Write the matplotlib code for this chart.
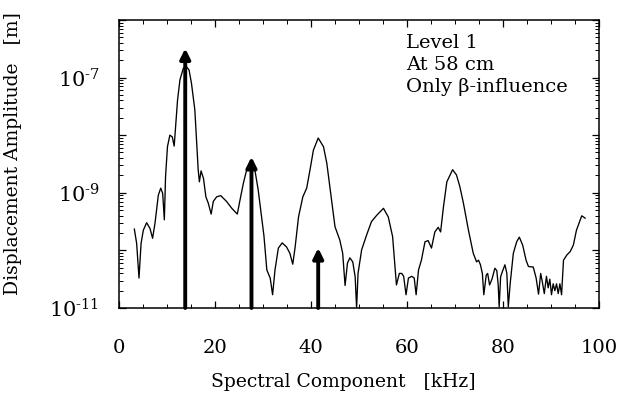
import numpy as np
import matplotlib
matplotlib.use("Agg")
import matplotlib.pyplot as plt
from matplotlib.ticker import LogLocator, FixedLocator, MultipleLocator, NullFormatter, FuncFormatter

# spectrum (kHz, log10 amplitude in m)
freq_khz = [3.2, 3.68, 4.17, 4.6, 5.07, 5.76, 6.46, 7.0, 7.5, 8.2, 8.7, 9.1, 9.45, 9.7,
            10.1, 10.6, 11.1, 11.5, 11.8, 12.2, 12.7, 13.4, 13.95, 14.6, 15.1, 15.8, 16.2,
            16.5, 16.75, 17.1, 17.6, 18.1, 18.6, 19.2, 19.65, 20.35, 21.2, 22.4, 23.5,
            24.65, 25.2, 25.9, 26.6, 27.5, 28.3, 29.0, 29.7, 30.2, 30.8, 31.5, 32.0, 32.5,
            33.2, 34.0, 34.9, 35.6, 36.2, 36.7, 37.4, 38.3, 39.1, 39.8, 40.5, 41.5, 42.6,
            43.3, 44.1, 45.0, 46.0, 46.6, 47.1, 47.6, 48.1, 48.7, 49.2, 49.5, 49.8, 50.55,
            51.6, 52.6, 53.7, 55.1, 56.1, 57.0, 57.8, 58.4, 58.9, 59.3, 59.8, 60.3, 61.0,
            61.5, 61.9, 62.4, 63.0, 63.75, 64.4, 65.1, 65.8, 66.5, 67.0, 67.6, 68.3, 69.5,
            70.3, 71.0, 71.75, 72.8, 73.8, 74.5, 74.9, 75.3, 75.7, 76.0, 76.5, 76.8, 77.2,
            77.7, 78.3, 78.7, 79.0, 79.2, 79.5, 79.9, 80.4, 80.8, 81.1, 81.5, 82.15, 82.85,
            83.4, 84.1, 84.8, 85.3, 86.3, 86.9, 87.4, 87.85, 88.2, 88.6, 89.05, 89.4, 89.75,
            90.1, 90.45, 90.8, 91.15, 91.5, 91.85, 92.2, 92.6, 93.3, 94.0, 94.65, 95.3,
            96.4, 97.1]
log_amp = [-9.63, -9.88, -10.48, -9.88, -9.65, -9.52, -9.62, -9.79, -9.53, -9.04, -8.92,
           -9.01, -9.47, -8.72, -8.20, -8.00, -8.03, -8.19, -7.85, -7.39, -7.04, -6.84,
           -6.80, -6.87, -7.10, -7.56, -8.14, -8.60, -8.81, -8.62, -8.75, -9.07, -9.18,
           -9.37, -9.15, -9.07, -9.05, -9.15, -9.27, -9.37, -9.13, -8.84, -8.60, -8.46,
           -8.60, -8.95, -9.41, -9.75, -10.34, -10.48, -10.77, -10.34, -9.96, -9.87,
           -9.94, -10.05, -10.24, -9.94, -9.42, -9.07, -8.92, -8.60, -8.26, -8.05, -8.20,
           -8.49, -9.01, -9.59, -9.82, -10.05, -10.61, -10.22, -10.13, -10.20, -10.46,
           -11.0, -10.40, -9.99, -9.73, -9.50, -9.39, -9.27, -9.42, -9.76, -10.60, -10.40,
           -10.40, -10.45, -10.77, -10.48, -10.45, -10.48, -10.77, -10.34, -10.17, -9.85,
           -9.83, -9.96, -9.68, -9.60, -9.68, -9.24, -8.81, -8.60, -8.69, -8.89, -9.18,
           -9.65, -10.05, -10.20, -10.17, -10.25, -10.40, -10.77, -10.43, -10.40, -10.60,
           -10.50, -10.31, -10.35, -10.60, -10.98, -10.46, -10.36, -10.25, -10.40, -10.98,
           -10.57, -10.05, -9.85, -9.77, -9.91, -10.17, -10.28, -10.29, -10.48, -10.76,
           -10.40, -10.55, -10.75, -10.45, -10.65, -10.50, -10.77, -10.58, -10.70, -10.58,
           -10.75, -10.58, -10.77, -10.17, -10.08, -10.02, -9.91, -9.65, -9.40, -9.44]

# beta-influence lines (arrows)
arrow_freq = [13.8, 27.6, 41.5]
arrow_amp = [3.2e-7, 4.2e-9, 1.1e-10]

xticks = [0, 20, 40, 60, 80, 100]
ylabeled = [1e-7, 1e-9, 1e-11]

plt.rcParams['font.family'] = ['DejaVu Serif']
plt.rcParams['mathtext.fontset'] = 'dejavuserif'

fig = plt.figure(figsize=(6.21, 3.93), dpi=100)
ax = fig.add_axes([0.1916, 0.2163, 0.773, 0.733])

amp = 10.0 ** np.array(log_amp)
ax.plot(freq_khz, amp, color='black', lw=0.95, solid_joinstyle='round')

for i, (f, a) in enumerate(zip(arrow_freq, arrow_amp)):
    ax.annotate('', xy=(f, a), xytext=(f, 1e-11),
                arrowprops=dict(arrowstyle='-|>', mutation_scale=15, lw=2.8,
                                color='black', shrinkA=0, shrinkB=0))
    if i > 0:
        ax.plot([f, f], [1e-11, a * 0.6], color='white', lw=0.9,
                ls=(0, (0.8, 1.6)))

ax.set_yscale('log')
ax.set_xlim(0, 100)
ax.set_ylim(1e-11, 1e-6)

ax.xaxis.set_major_locator(FixedLocator(xticks))
ax.xaxis.set_minor_locator(MultipleLocator(5))
ax.yaxis.set_major_locator(LogLocator(base=10, numticks=20))
ax.yaxis.set_minor_locator(LogLocator(base=10, subs=np.arange(2, 10), numticks=20))
ax.yaxis.set_minor_formatter(NullFormatter())


def yfmt(v, pos):
    for t in ylabeled:
        if abs(np.log10(v) - np.log10(t)) < 1e-6:
            return r'$10^{\text{-}%d}$' % abs(int(round(np.log10(t))))
    return ''


ax.yaxis.set_major_formatter(FuncFormatter(yfmt))

ax.tick_params(which='both', direction='in', top=True, right=True)
ax.tick_params(which='major', length=5, width=0.9)
ax.tick_params(which='minor', length=3, width=0.7)
ax.tick_params(axis='x', which='major', pad=22, labelsize=14)
ax.tick_params(axis='y', which='major', pad=14, labelsize=15)
for s in ax.spines.values():
    s.set_linewidth(1.1)

ax.set_xlabel('Spectral Component   [kHz]', fontsize=13.5)
ax.set_ylabel('Displacement Amplitude   [m]', fontsize=13.5)
ax.xaxis.set_label_coords(0.467, -0.225)
ax.yaxis.set_label_coords(-0.202, 0.536)

ax.text(0.598, 0.952, 'Level 1\nAt 58 cm\nOnly \u03b2-influence', transform=ax.transAxes,
        ha='left', va='top', fontsize=14, linespacing=1.28)

fig.savefig('out.png', dpi=100)
